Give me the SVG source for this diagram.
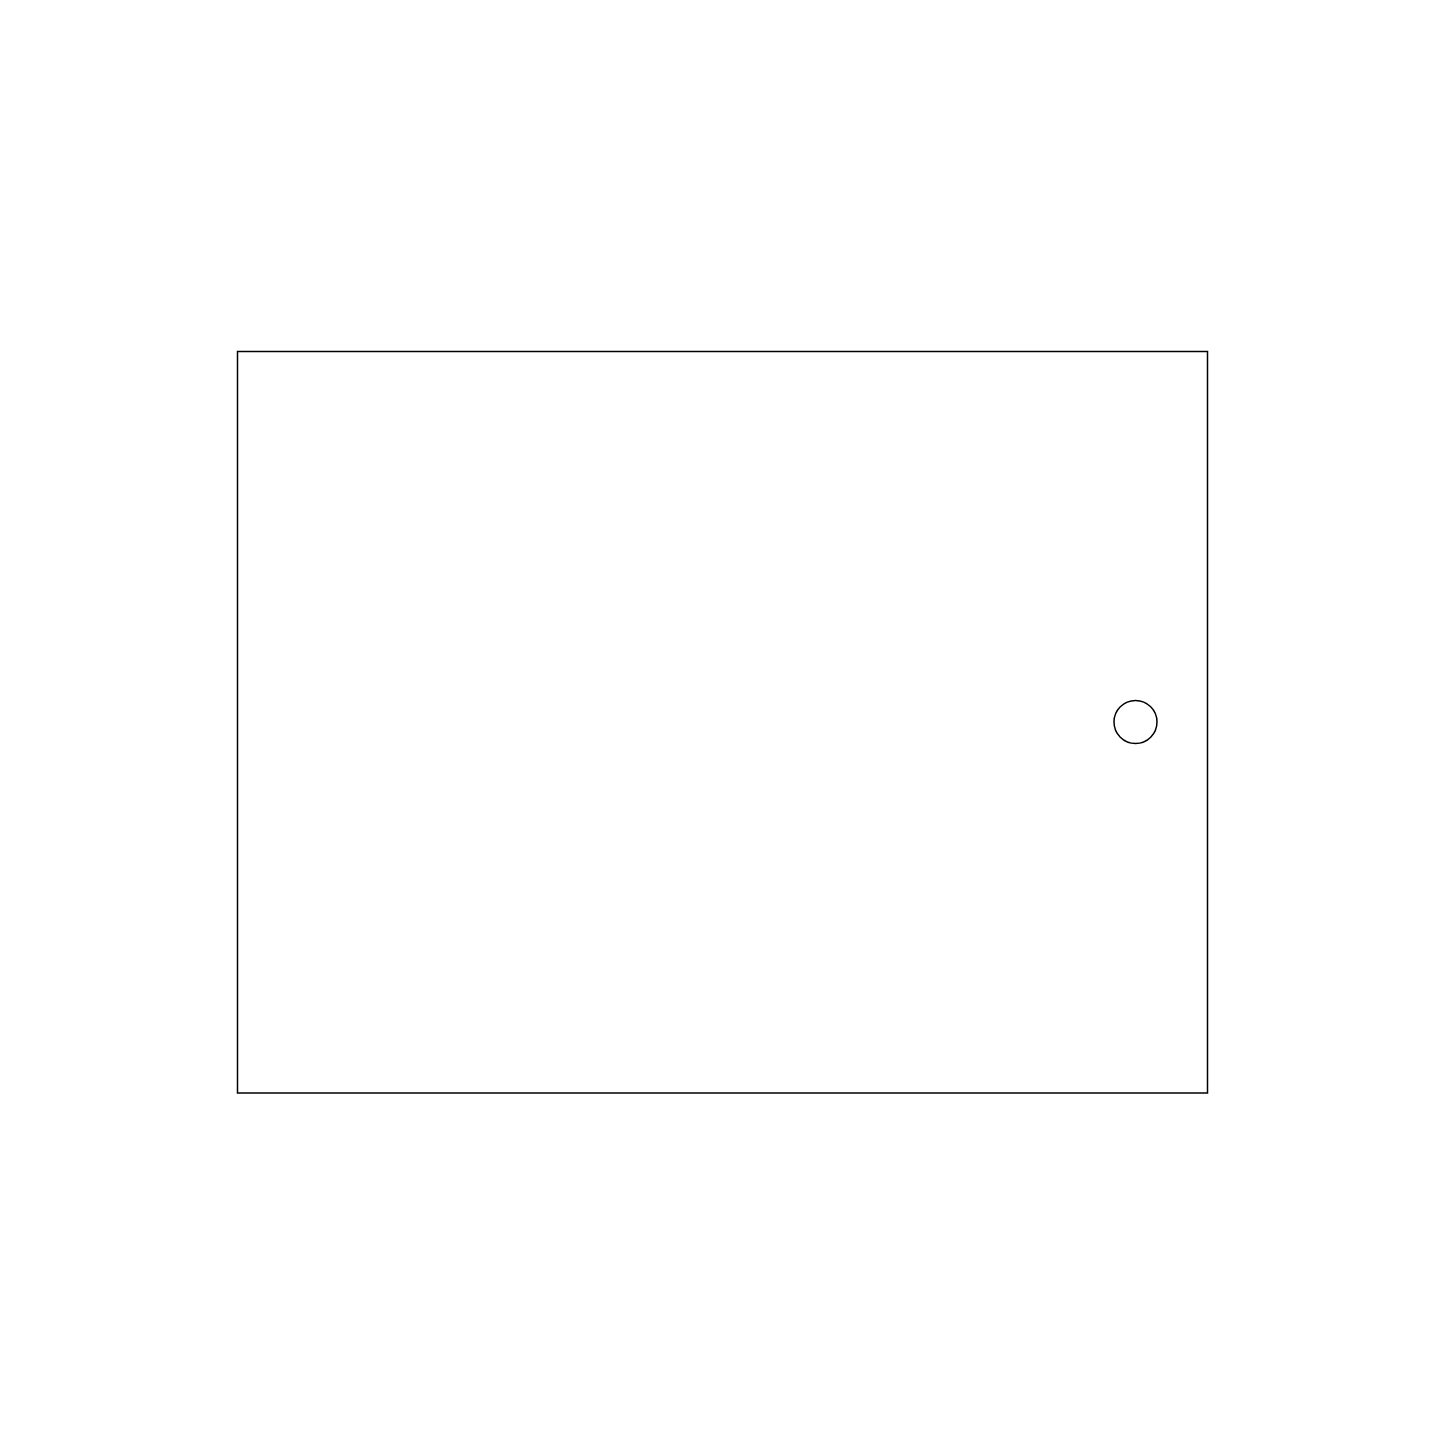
<svg xmlns="http://www.w3.org/2000/svg" width="1445" height="1445" viewBox="0 0 1445 1445">
<style>
.s{fill:#fff;stroke:#000;stroke-width:1.5}
</style>
<rect width="1445" height="1445" fill="#fff"/>
<g id="frame"><rect class="s" x="237.5" y="351.5" width="970" height="741.5"/></g>
<g id="circle"><circle class="s" cx="1135.5" cy="722" r="21.5"/></g>
<g id="connectors"></g>
</svg>
